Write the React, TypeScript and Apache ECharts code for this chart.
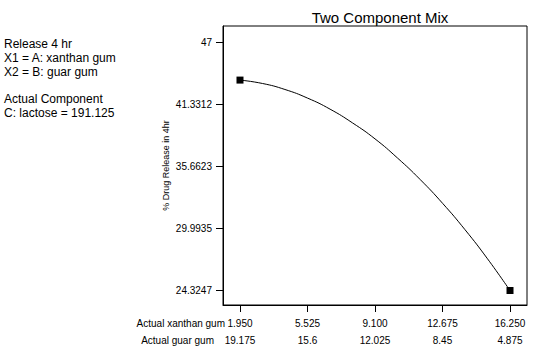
import React, { useEffect, useRef } from "react";
import * as echarts from "echarts";

const xanthanValues = [1.95, 3.14, 4.33, 5.53, 6.72, 7.91, 9.1, 10.29, 11.48, 12.68, 13.87, 15.06, 16.25];
const releaseValues = [43.58, 43.27, 42.72, 41.93, 40.92, 39.66, 38.2, 36.45, 34.5, 32.3, 29.88, 27.22, 24.32];
const designPointIdx = [0, 12];

const xTickValues = [1.95, 5.525, 9.1, 12.675, 16.25];
const xanthanLabels = ["1.950", "5.525", "9.100", "12.675", "16.250"];
const guarLabels = ["19.175", "15.6", "12.025", "8.45", "4.875"];
const yTickValues = [24.3247, 29.9935, 35.6623, 41.3312, 47];
const yTickLabels = ["24.3247", "29.9935", "35.6623", "41.3312", "47"];

const infoLines = ["Release 4 hr", "X1 = A: xanthan gum", "X2 = B: guar gum", "", "Actual Component", "C: lactose = 191.125"];

const FONT = "'Liberation Sans', Arial, sans-serif";

const labelFor = (ticks: number[], labels: string[]) => (v: number) => {
  let best = 0;
  for (let i = 1; i < ticks.length; i++) if (Math.abs(ticks[i] - v) < Math.abs(ticks[best] - v)) best = i;
  return labels[best];
};

export default function App() {
  const ref = useRef<HTMLDivElement>(null);
  useEffect(() => {
    if (!ref.current) return;
    const chart = echarts.init(ref.current, null, { renderer: "svg" });
    const data = xanthanValues.map((x, i) => ({
      value: [x, releaseValues[i]],
      symbol: designPointIdx.includes(i) ? "rect" : "none",
    }));
    const gridLeft = 223, gridTop = 26, gridRight = 17, gridBottom = 50;
    chart.setOption({
      animation: false,
      backgroundColor: "#ffffff",
      title: {
        text: "Two Component Mix",
        left: 375,
        top: 5,
        textAlign: "center",
        textStyle: { fontFamily: FONT, fontSize: 15, fontWeight: "normal", color: "#000" },
      },
      grid: {
        left: gridLeft, top: gridTop, right: gridRight, bottom: gridBottom,
        show: true, borderColor: "#000", borderWidth: 1, backgroundColor: "transparent",
      },
      xAxis: [
        {
          type: "value", min: 1.05, max: 17.15, position: "bottom",
          axisLine: { show: true, lineStyle: { color: "#000", width: 1 } },
          axisTick: { show: true, length: 7, customValues: xTickValues, lineStyle: { color: "#000" } },
          axisLabel: {
            customValues: xTickValues, margin: 13, color: "#000", fontSize: 10, fontFamily: FONT,
            formatter: labelFor(xTickValues, xanthanLabels),
          },
          splitLine: { show: false },
        },
        {
          type: "value", min: 1.05, max: 17.15, position: "bottom", offset: 17,
          axisLine: { show: false },
          axisTick: { show: false },
          axisLabel: {
            customValues: xTickValues, margin: 13, color: "#000", fontSize: 10, fontFamily: FONT,
            formatter: labelFor(xTickValues, guarLabels),
          },
          splitLine: { show: false },
        },
      ],
      yAxis: {
        type: "value", min: 22.995, max: 48.53,
        name: "% Drug Release in 4hr", nameLocation: "middle", nameGap: 53, nameRotate: 90,
        nameMoveOverlap: false,
        nameTextStyle: { fontFamily: FONT, fontSize: 9, color: "#000" },
        axisLine: { show: true, lineStyle: { color: "#000", width: 1 } },
        axisTick: { show: true, length: 7, customValues: yTickValues, lineStyle: { color: "#000" } },
        axisLabel: {
          customValues: yTickValues, margin: 11, color: "#000", fontSize: 10, fontFamily: FONT,
          formatter: labelFor(yTickValues, yTickLabels),
        },
        splitLine: { show: false },
      },
      graphic: [
        ...infoLines.map((t, i) => ({
          type: "text", left: 4, top: 38 + i * 13.8,
          style: { text: t, fill: "#000", font: `12px ${FONT}` },
        })),
        {
          type: "text", x: 225, y: 323,
          style: { text: "Actual xanthan gum", fill: "#000", font: `10px ${FONT}`, align: "right", verticalAlign: "middle" },
        },
        {
          type: "text", x: 214, y: 340,
          style: { text: "Actual guar gum", fill: "#000", font: `10px ${FONT}`, align: "right", verticalAlign: "middle" },
        },
      ],
      series: [
        {
          type: "line",
          data,
          xAxisIndex: 0,
          smooth: true,
          showSymbol: true,
          symbolSize: 7,
          lineStyle: { color: "#000", width: 1 },
          itemStyle: { color: "#000" },
          silent: true,
        },
      ],
    });
    return () => chart.dispose();
  }, []);
  return <div ref={ref} style={{ position: "fixed", left: 0, top: 0, width: 544, height: 355 }} />;
}
